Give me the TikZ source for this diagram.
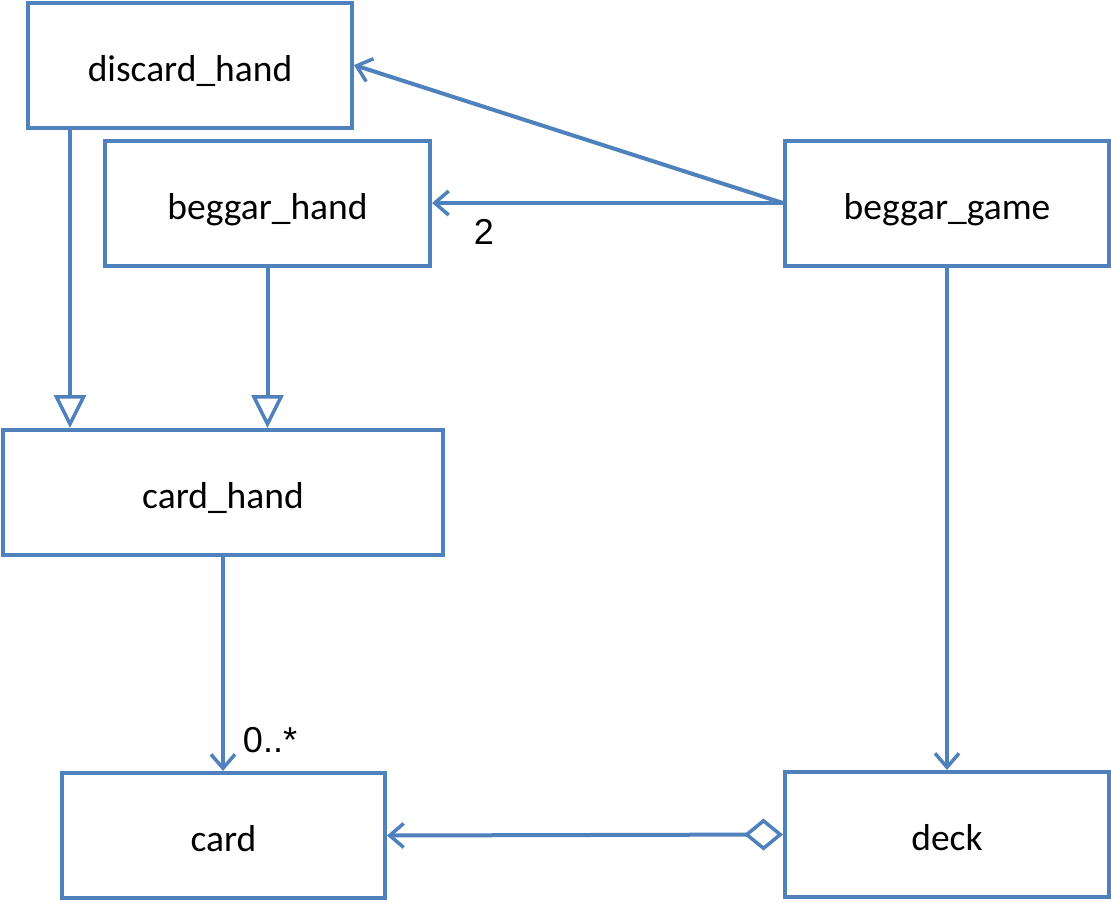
\documentclass[tikz,border=0pt]{standalone}
\usepackage{fontspec}
\setmainfont{Carlito}
\newfontfamily\lblfont{Liberation Sans}
\usetikzlibrary{arrows.meta}

\definecolor{umlblue}{HTML}{4F81BD}

\begin{document}
\begin{tikzpicture}
[every node/.style={inner sep=0pt},
 classbox/.style={rectangle, draw=umlblue, line width=4pt, fill=white, minimum height=125pt, text height=38pt, text depth=6pt, font=\fontsize{37.5}{44}\selectfont},
 mult/.style={font=\lblfont\fontsize{36}{40}\selectfont},
 assoc/.style={line width=4pt, color=umlblue, -{Straight Barb[length=14pt, width=24pt, line width=3.5pt]}},
 inherit/.style={line width=4pt, color=umlblue, -{Triangle[open, length=33pt, width=32pt, line width=3.5pt, fill=white]}},
 aggreg/.style={line width=4pt, color=umlblue, {Diamond[open, length=39pt, width=32pt, line width=3.5pt, fill=white]}-{Straight Barb[length=14pt, width=24pt, line width=3.5pt]}}]
\useasboundingbox (0pt, 0pt) rectangle (1111pt, -903pt);
\node (dh) [classbox, minimum width=324pt] at (190.0pt, -65.0pt) {discard\_hand};
\node (bh) [classbox, minimum width=325pt] at (267.5pt, -203.0pt) {beggar\_hand};
\node (bg) [classbox, minimum width=324pt] at (947.0pt, -203.0pt) {beggar\_game};
\node (ch) [classbox, minimum width=440pt] at (223.0pt, -492.5pt) {card\_hand};
\node (card) [classbox, minimum width=323pt] at (223.5pt, -835.5pt) {card};
\node (deck) [classbox, minimum width=324pt] at (947.0pt, -834.5pt) {deck};
\node (two) [mult] at (484.0pt, -232.0pt) {2};
\node (many) [mult] at (270.0pt, -740.0pt) {0..*};
\draw [assoc] (bg.west) to (dh.east);
\draw [assoc] (bg.west) to (bh.east);
\draw [inherit] ([xshift=44pt]dh.south west) to ([xshift=44pt]dh.south west |- ch.north);
\draw [inherit] (bh.south) to (bh.south |- ch.north);
\draw [assoc] (ch.south) to ([xshift=-0.5pt]card.north);
\draw [assoc] (bg.south) to (deck.north);
\draw [aggreg] (deck.west) to (card.east);

\end{tikzpicture}
\end{document}
